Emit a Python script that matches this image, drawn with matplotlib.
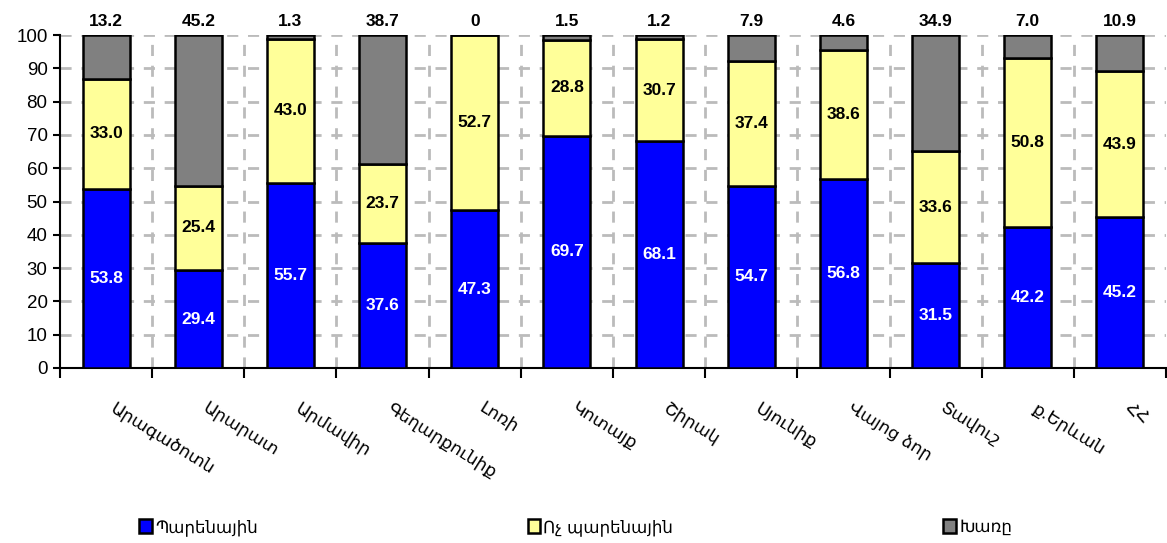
import numpy as np
import matplotlib
matplotlib.use('Agg')
import matplotlib.pyplot as plt

regions = ['Արագածոտն', 'Արարատ', 'Արմավիր', 'Գեղարքունիք', 'Լոռի', 'Կոտայք',
           'Շիրակ', 'Սյունիք', 'Վայոց ձոր', 'Տավուշ', 'ք.Երևան', 'ՀՀ']
food = [53.8, 29.4, 55.7, 37.6, 47.3, 69.7, 68.1, 54.7, 56.8, 31.5, 42.2, 45.2]
nonfood = [33.0, 25.4, 43.0, 23.7, 52.7, 28.8, 30.7, 37.4, 38.6, 33.6, 50.8, 43.9]
mixed = [13.2, 45.2, 1.3, 38.7, 0, 1.5, 1.2, 7.9, 4.6, 34.9, 7.0, 10.9]
mixed_lbl = ['13.2', '45.2', '1.3', '38.7', '0', '1.5', '1.2', '7.9', '4.6', '34.9', '7.0', '10.9']
series_names = ['Պարենային', 'Ոչ պարենային', 'Խառը']

plt.rcParams['font.family'] = ['Liberation Sans', 'DejaVu Sans']

fig = plt.figure(figsize=(11.67, 5.43), dpi=100)
ax = fig.add_axes([60/1167, 1-368/543, 1106/1167, 333/543])

x = np.arange(len(regions))
food = np.array(food)
nonfood = np.array(nonfood)
mixed = np.array(mixed)
w = 0.51
kw = dict(width=w, edgecolor='black', linewidth=1.8, zorder=3)
b1 = ax.bar(x, food, color='#0000FF', label=series_names[0], **kw)
b2 = ax.bar(x, nonfood, bottom=food, color='#FFFF99', label=series_names[1], **kw)
b3 = ax.bar(x, 100 - food - nonfood, bottom=food + nonfood, color='#808080',
            label=series_names[2], **kw)

for i in range(len(x)):
    ax.text(x[i], food[i] / 2, f'{food[i]:.1f}', ha='center', va='center',
            color='white', fontsize=12.5, fontweight='bold', zorder=4)
    ax.text(x[i], food[i] + nonfood[i] / 2, f'{nonfood[i]:.1f}', ha='center',
            va='center', color='black', fontsize=12.5, fontweight='bold', zorder=4)
    ax.annotate(mixed_lbl[i], (x[i], 100), xytext=(0, 4), textcoords='offset points',
                ha='center', va='bottom', fontsize=12.5, fontweight='bold',
                annotation_clip=False)

ax.set_xlim(-0.5, len(x) - 0.5)
ax.set_ylim(0, 100)
ax.set_yticks(np.arange(0, 101, 10))
ax.tick_params(axis='y', labelsize=13.5, length=5, width=1.5, direction='out', pad=4)
ax.set_xticks(np.arange(-0.5, len(x), 1.0))
ax.set_xticklabels([])
ax.tick_params(axis='x', length=7, width=1.5, direction='out')

for yv in range(10, 101, 10):
    ax.axhline(yv, color='#BBBBBB', lw=2, ls=(0, (4, 3.5)), zorder=1)
for xv in np.arange(0.5, len(x) - 0.5, 1.0):
    ax.axvline(xv, color='#BBBBBB', lw=2, ls=(0, (4, 3.5)), zorder=1)

for s in ['top', 'right']:
    ax.spines[s].set_visible(False)
ax.spines['left'].set_linewidth(1.5)
ax.spines['bottom'].set_linewidth(1.5)

for i, name in enumerate(regions):
    ax.annotate(name, (x[i], 0), xytext=(8, -22), textcoords='offset points',
                rotation=-32, rotation_mode='anchor', ha='left', va='top',
                fontsize=12.5, family=['DejaVu Sans'], annotation_clip=False)

fig.legend(handles=[b1, b2, b3], loc='center left', bbox_to_anchor=(124/1167, 1 - 527/543),
           ncol=3, frameon=False, handlelength=0.75, handleheight=0.9,
           handletextpad=0.2, columnspacing=16.2, prop={'family': ['DejaVu Sans'], 'size': 12})

fig.savefig('out.png', dpi=100)
